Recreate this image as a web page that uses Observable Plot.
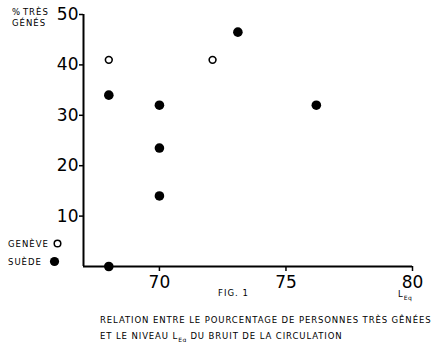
<!DOCTYPE html>
<html>
<head>
<meta charset="utf-8">
<script src="https://cdn.jsdelivr.net/npm/d3@7"></script>
<script src="https://cdn.jsdelivr.net/npm/@observablehq/plot@0.6"></script>
<style>
  html, body { margin: 0; padding: 0; background: #fff; }
  #wrap { position: relative; width: 434px; height: 342px; overflow: hidden; font-family: "DejaVu Sans", sans-serif; color: #000; }
  .small { position: absolute; font-size: 8.5px; letter-spacing: 1px; white-space: nowrap; line-height: 1; }
  .sub { font-size: 6px; position: relative; top: 3px; letter-spacing: 0.5px; }
</style>
</head>
<body>
<div id="wrap"></div>
<script>
// Data
const geneveLeq = [68, 72.1];
const genevePct = [41, 41];
const suedeLeq = [68, 70, 70, 70, 73.1, 76.2, 68];
const suedePct = [34, 32, 23.5, 14, 46.5, 32, 0];
const xTicks = [70, 75, 80];
const yTicks = [10, 20, 30, 40, 50];

const geneve = geneveLeq.map((x, i) => ({x, y: genevePct[i]}));
const suede = suedeLeq.map((x, i) => ({x, y: suedePct[i]}));

const chart = Plot.plot({
  width: 434,
  height: 342,
  marginLeft: 83,
  marginRight: 22,
  marginTop: 14,
  marginBottom: 76,
  style: {fontFamily: "DejaVu Sans, sans-serif", background: "white", color: "black"},
  x: {domain: [67, 80]},
  y: {domain: [0, 50]},
  marks: [
    Plot.ruleX([67], {stroke: "black", strokeWidth: 2}),
    Plot.ruleY([0], {stroke: "black", strokeWidth: 2}),
    Plot.axisY({ticks: yTicks, tickSize: 4, tickPadding: 1, fontSize: 17, tickFormat: d => d, strokeWidth: 1.5, label: null}),
    Plot.axisX({ticks: xTicks, tickSize: 5, tickPadding: 4, fontSize: 17, tickFormat: d => d, strokeWidth: 1.5, label: null}),
    Plot.dot(suede, {x: "x", y: "y", r: 4.8, fill: "black", stroke: "none", clip: false}),
    Plot.dot(geneve, {x: "x", y: "y", r: 3.4, fill: "white", stroke: "black", strokeWidth: 1.6})
  ]
});
const wrap = document.getElementById("wrap");
wrap.appendChild(chart);

function addText(html, left, top, extra) {
  const d = document.createElement("div");
  d.className = "small";
  d.innerHTML = html;
  d.style.left = left + "px";
  d.style.top = top + "px";
  if (extra) Object.assign(d.style, extra);
  wrap.appendChild(d);
}
addText("%&#8202;TRÈS", 12, 8);
addText("GÉNÉS", 12, 19);
addText("GENÈVE <svg width='9' height='9' style='vertical-align:-1px'><circle cx='4.5' cy='4.5' r='3.3' fill='white' stroke='black' stroke-width='1.5'/></svg>", 8, 239);
addText("SUÈDE &nbsp;<svg width='11' height='11' style='vertical-align:-2px'><circle cx='5.5' cy='5.5' r='4.6' fill='black'/></svg>", 8, 256);
addText("FIG. 1", 218, 289);
addText("L<span class='sub'>Eq</span>", 398, 290);
addText("RELATION ENTRE LE POURCENTAGE DE PERSONNES TRÈS GÊNÉES", 100, 316, {letterSpacing: "0.9px"});
addText("ET LE NIVEAU L<span class='sub'>Eq</span> DU BRUIT DE LA CIRCULATION", 100, 332, {letterSpacing: "0.9px"});
</script>
</body>
</html>
